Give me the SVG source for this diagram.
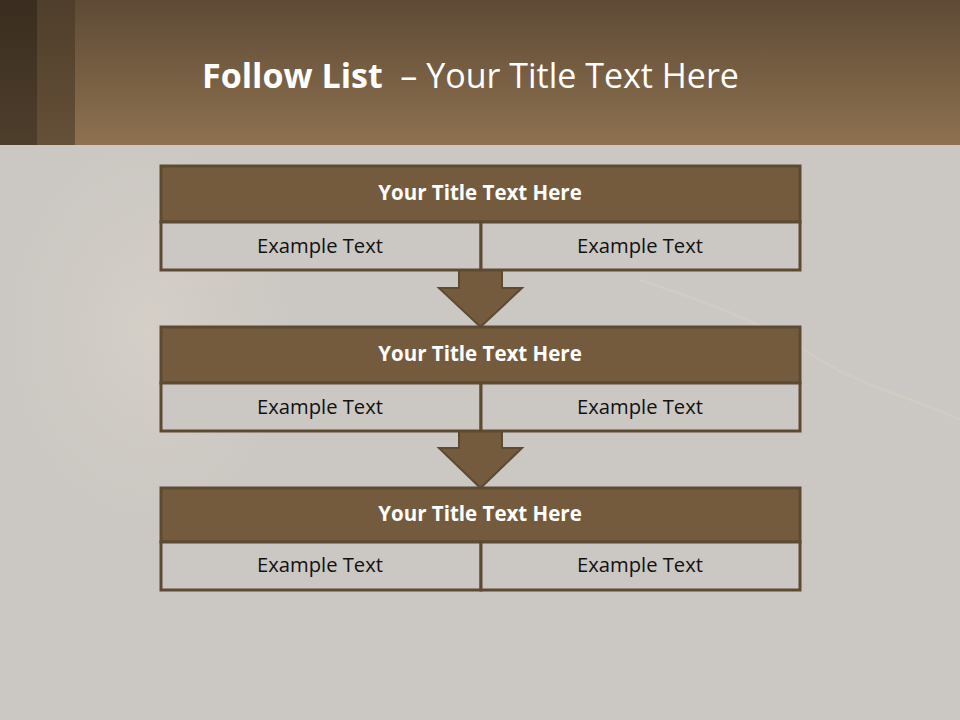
<svg xmlns="http://www.w3.org/2000/svg" width="960" height="720" viewBox="0 0 960 720">
<defs>
<linearGradient id="hdr" x1="0" y1="0" x2="0" y2="1">
<stop offset="0" stop-color="#5e4b35"/>
<stop offset="1" stop-color="#8e7150"/>
</linearGradient>
<linearGradient id="s1" x1="0" y1="0" x2="0" y2="1">
<stop offset="0" stop-color="#3a2d1f"/>
<stop offset="1" stop-color="#4e3e2c"/>
</linearGradient>
<linearGradient id="s2" x1="0" y1="0" x2="0" y2="1">
<stop offset="0" stop-color="#4f3e2b"/>
<stop offset="1" stop-color="#655038"/>
</linearGradient>
<radialGradient id="glow" cx="0.5" cy="0.5" r="0.5">
<stop offset="0" stop-color="#ddd6cc" stop-opacity="0.5"/>
<stop offset="1" stop-color="#ddd6cc" stop-opacity="0"/>
</radialGradient>
</defs>
<style>
.head{fill:#745b3e;stroke:#5c4a33;stroke-width:3}
.cell{fill:#cbc7c2;stroke:#5c4a33;stroke-width:3}
.arrow{fill:#745b3e;stroke:#5c4a33;stroke-width:2;stroke-linejoin:miter}
.tt{font-family:"Open Sans","Liberation Sans",sans-serif;font-weight:bold;font-size:20.5px;fill:#ffffff;text-anchor:middle}
.et{font-family:"Open Sans","Liberation Sans",sans-serif;font-size:20.2px;fill:#111111;text-anchor:middle}
</style>
<rect x="0" y="0" width="960" height="720" fill="#cbc7c2"/>
<ellipse cx="150" cy="330" rx="140" ry="190" fill="url(#glow)"/>
<path d="M640 280 C700 300 760 320 820 360 C870 390 920 400 960 420" fill="none" stroke="#d9d0c4" stroke-width="3" opacity="0.5"/>
<rect x="0" y="0" width="960" height="145" fill="url(#hdr)"/>
<rect x="0" y="0" width="37" height="145" fill="url(#s1)"/>
<rect x="37" y="0" width="38" height="145" fill="url(#s2)"/>
<text x="202" y="88" font-family="Open Sans, Liberation Sans, sans-serif" font-size="34" fill="#ffffff" xml:space="preserve"><tspan font-weight="bold">Follow List</tspan><tspan>  – Your Title Text Here</tspan></text>
<g id="connectors">
<polygon class="arrow" points="459,270 502,270 502,288 522,288 480.5,327 439,288 459,288"/>
<polygon class="arrow" points="459,431 502,431 502,448 522,448 480.5,488 439,448 459,448"/>
</g>
<g id="node1">
<rect class="head" x="161" y="166" width="639" height="56"/>
<rect class="cell" x="161" y="222" width="320" height="48"/>
<rect class="cell" x="481" y="222" width="319" height="48"/>
<text class="tt" x="480" y="200">Your Title Text Here</text>
<text class="et" x="320" y="253">Example Text</text>
<text class="et" x="640" y="253">Example Text</text>
</g>
<g id="node2">
<rect class="head" x="161" y="327" width="639" height="56"/>
<rect class="cell" x="161" y="383" width="320" height="48"/>
<rect class="cell" x="481" y="383" width="319" height="48"/>
<text class="tt" x="480" y="361">Your Title Text Here</text>
<text class="et" x="320" y="414">Example Text</text>
<text class="et" x="640" y="414">Example Text</text>
</g>
<g id="node3">
<rect class="head" x="161" y="488" width="639" height="54"/>
<rect class="cell" x="161" y="542" width="320" height="48"/>
<rect class="cell" x="481" y="542" width="319" height="48"/>
<text class="tt" x="480" y="521">Your Title Text Here</text>
<text class="et" x="320" y="572">Example Text</text>
<text class="et" x="640" y="572">Example Text</text>
</g>
</svg>
